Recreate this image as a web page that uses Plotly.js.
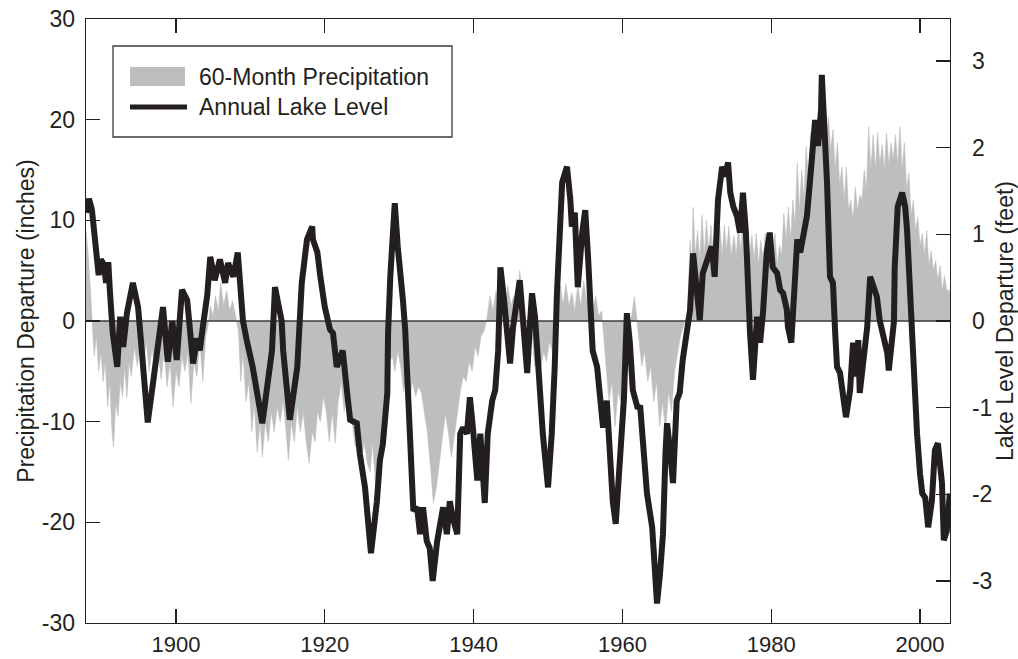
<!DOCTYPE html>
<html>
<head>
<meta charset="utf-8">
<script src="https://cdn.plot.ly/plotly-3.0.1.min.js"></script>
<style>html,body{margin:0;padding:0;background:#fff;}#chart{width:1018px;height:659px;}</style>
</head>
<body>
<div id="chart"></div>
<script>
// ---- Data ----
const seriesNames = ["60-Month Precipitation", "Annual Lake Level"];
const xTickVals = [1900, 1920, 1940, 1960, 1980, 2000];
const yLeftTicks = [-30, -20, -10, 0, 10, 20, 30];
const yLeftTickText = ["-30", "-20", "-10", "0", "10", "20", "30"];
const yRightTicks = [-3, -2, -1, 0, 1, 2, 3];
const yRightTickText = ["-3", "-2", "-1", "0", "1", "2", "3"];

// 60-month precipitation departure (inches), left axis
const precipYears = [
1887.9,1888.2,1888.5,1888.8,1889.0,1889.3,1889.6,1889.9,1890.2,1890.5,1890.8,1891.1,1891.4,1891.6,1891.9,1892.2,1892.5,1892.8,1893.1,1893.4,
1893.7,1894.0,1894.4,1894.8,1895.2,1895.6,1896.0,1896.4,1896.8,1897.2,1897.6,1898.0,1898.4,1898.8,1899.2,1899.6,1900.0,1900.4,1900.8,1901.2,
1901.6,1902.0,1902.4,1902.8,1903.2,1903.6,1904.0,1904.3,1904.6,1905.0,1905.3,1905.7,1906.0,1906.4,1906.8,1907.2,1907.6,1908.0,1908.4,1908.7,
1909.0,1909.4,1909.8,1910.2,1910.5,1910.9,1911.3,1911.6,1912.0,1912.4,1912.8,1913.2,1913.6,1914.0,1914.4,1914.8,1915.1,1915.5,1915.9,1916.3,
1916.7,1917.1,1917.5,1917.9,1918.3,1918.7,1919.0,1919.4,1919.8,1920.2,1920.6,1921.0,1921.4,1921.8,1922.2,1922.6,1922.9,1923.3,1923.7,1924.1,
1924.5,1924.9,1925.3,1925.7,1926.1,1926.4,1926.8,1927.2,1927.5,1927.9,1928.3,1928.7,1929.1,1929.4,1929.8,1930.2,1930.6,1931.0,1931.4,1931.8,
1932.2,1932.6,1933.0,1933.4,1933.8,1934.2,1934.6,1935.0,1935.4,1935.8,1936.2,1936.6,1937.0,1937.4,1937.8,1938.2,1938.6,1939.0,1939.4,1939.8,
1940.2,1940.6,1941.0,1941.4,1941.8,1942.2,1942.6,1943.0,1943.4,1943.8,1944.2,1944.6,1945.0,1945.4,1945.8,1946.2,1946.6,1947.0,1947.4,1947.8,
1948.2,1948.6,1949.0,1949.4,1949.8,1950.2,1950.6,1951.0,1951.3,1951.7,1952.0,1952.4,1952.8,1953.2,1953.6,1954.0,1954.4,1954.8,1955.2,1955.6,
1956.0,1956.4,1956.8,1957.2,1957.5,1957.9,1958.2,1958.6,1959.0,1959.4,1959.8,1960.2,1960.6,1961.0,1961.3,1961.6,1961.9,1962.2,1962.6,1963.0,
1963.4,1963.8,1964.2,1964.6,1965.0,1965.4,1965.8,1966.2,1966.6,1967.0,1967.4,1967.8,1968.2,1968.6,1968.7,1969.1,1969.3,1969.5,1969.8,1970.1,
1970.4,1970.7,1971.0,1971.3,1971.6,1971.9,1972.2,1972.5,1972.8,1973.1,1973.4,1973.7,1974.0,1974.3,1974.6,1975.0,1975.3,1975.6,1975.9,1976.2,
1976.5,1976.8,1977.1,1977.4,1977.7,1978.0,1978.3,1978.6,1978.9,1979.2,1979.5,1979.8,1980.1,1980.5,1980.8,1981.1,1981.4,1981.7,1982.0,1982.3,
1982.6,1982.9,1983.2,1983.5,1983.8,1984.1,1984.4,1984.7,1985.0,1985.3,1985.6,1985.9,1986.2,1986.5,1986.8,1987.1,1987.4,1987.7,1988.0,1988.3,
1988.6,1988.9,1989.2,1989.5,1989.8,1990.1,1990.4,1990.7,1991.0,1991.3,1991.6,1991.9,1992.2,1992.5,1992.8,1993.1,1993.4,1993.7,1994.0,1994.3,
1994.6,1994.9,1995.2,1995.5,1995.8,1996.1,1996.4,1996.7,1997.0,1997.3,1997.6,1997.9,1998.2,1998.5,1998.8,1999.1,1999.4,1999.7,2000.0,2000.3,
2000.6,2000.9,2001.2,2001.5,2001.8,2002.1,2002.4,2002.7,2003.0,2003.3,2003.6,2003.9,2004.03
];
const precipInches = [
9,6.5,3,-1,-3.5,-1.5,-5,-3,-6,-4,-8.5,-6,-11,-12.5,-8,-9.5,-6,-7.5,-4.5,-7.6,
-4,-5.5,-2.5,-4.5,-2,-4.5,-2,-5,-2.5,-6.5,-3,-5.8,-3,-6.5,-4,-8.5,-5,-6.5,-3.5,-5,
-3,-8.2,-4,-5.5,-2,-6,-1.5,-0.5,1.5,0.5,2.5,1,3.8,1.5,3,1,2,0.5,-1,-6,
-3,-8,-6,-11,-8,-13,-10,-13.5,-10,-12,-9,-11,-8.5,-10,-8,-11,-13.8,-10,-12,-8.5,
-11,-9,-12,-14.1,-11,-12,-9,-10,-7.5,-9,-12,-9,-12.1,-8,-6,-9,-7,-8,-10.5,-12.5,
-11,-14,-12,-14.1,-15,-12,-16,-13,-11.8,-8,-6,-4,-3.5,-5,-3,-4.5,-7,-5,-7.9,-6,
-7.5,-6.5,-7.2,-9,-11.1,-14.5,-18.1,-16.5,-14,-12,-9.2,-11,-13.5,-11.5,-9,-7,-5.5,-6,-4,-5,
-2.5,-3.5,-1.5,-1,0.3,2.5,1,3,1.5,2,0.5,3.5,1.5,2.5,1,5,2,0,-1.2,-0.5,
-4.5,-2.5,-5,-3,-4,-2,-3,-0.8,0.3,3.5,1.5,3.7,1.5,2.8,1,3.5,1.5,4,2,3,
1,2.5,0.5,1,-2,-5,-8,-6,-10.5,-7,-8,-5,-3,-1,0.5,2.4,0.5,-2,-4.5,-3,
-6,-4.5,-8,-6,-10.5,-8,-11,-7,-9,-5,-3,-1.5,-0.5,0.5,0,8,5,11.3,6.5,9,
6,10.5,6.5,10,7,9.5,6.5,10.5,7,9.4,6.5,9.5,7,9.4,6.5,8.5,6.5,9.4,7,10.3,
6,9,6.5,8.5,6,8.7,5.5,8,6,8.7,6,7.5,6,8.7,5.5,7.5,6.5,10.7,8,11.3,
8,12,9.5,15.7,11,15,12,17.3,14,18.7,16,20,17,21,18.5,21,18,20.3,17,19,
15,17.7,13.5,15.3,12,15.3,11,12,10,13.3,11,12.5,12,15,13,19.3,15,18.5,15,18.7,
15.5,17.5,15,18.7,15.5,17.7,16,18.5,15.5,19.3,15,17.7,13,14.7,10.5,12,9,10.3,7.5,8.7,
6.5,9,5.5,7,5,6,4,5.5,3,4.5,3,3.1,2.5
];

// Annual lake level departure (feet), right axis
const lakeYears = [
1887.9,1888.3,1888.7,1889.1,1889.4,1889.6,1889.9,1890.3,1890.6,1890.9,1891.1,1891.5,1892.1,1892.5,1892.9,1893.4,1894.2,1894.9,1895.2,1896.1,
1896.2,1896.9,1897.4,1897.8,1898.25,1898.9,1899.5,1900.1,1900.8,1901.5,1901.9,1902.3,1902.8,1903.2,1903.6,1904.2,1904.6,1905.2,1905.9,1906.6,
1907.0,1907.7,1908.3,1909.0,1909.5,1910.3,1911.6,1912.2,1912.9,1913.3,1913.7,1914.2,1914.4,1915.3,1916.3,1916.7,1916.9,1917.6,1918.3,1918.4,
1919.0,1919.4,1920.0,1920.7,1921.1,1921.6,1922.4,1923.0,1923.4,1924.3,1924.7,1925.4,1926.1,1926.2,1926.5,1927.0,1927.4,1927.8,1928.4,1928.5,
1928.8,1929.4,1929.8,1930.1,1930.5,1930.8,1931.0,1931.4,1931.7,1931.9,1932.4,1932.8,1933.2,1933.7,1934.1,1934.5,1935.1,1935.5,1935.9,1936.4,
1936.8,1937.2,1937.8,1938.2,1938.6,1939.1,1939.5,1939.9,1940.5,1940.9,1941.5,1941.9,1942.5,1942.9,1943.3,1943.5,1943.6,1944.0,1944.5,1944.9,
1945.3,1945.8,1946.2,1946.6,1947.2,1947.6,1947.85,1948.25,1948.5,1948.9,1949.3,1950.0,1950.5,1950.9,1951.2,1951.9,1952.55,1953.0,1953.2,1953.6,
1954.0,1954.6,1955.0,1955.4,1955.9,1956.0,1956.6,1957.0,1957.4,1957.9,1958.3,1958.7,1959.1,1959.4,1959.9,1960.2,1960.6,1961.0,1961.4,1962.0,
1962.4,1962.8,1963.3,1964.0,1964.4,1964.65,1965.05,1965.45,1965.8,1966.0,1966.4,1966.8,1967.3,1967.7,1968.1,1968.7,1969.1,1969.5,1970.0,1970.4,
1970.8,1971.4,1972.0,1972.4,1972.85,1973.4,1973.8,1974.2,1974.5,1974.9,1975.4,1975.8,1976.2,1976.6,1976.9,1977.15,1977.55,1978.1,1978.5,1978.9,
1979.4,1979.8,1980.2,1980.8,1981.2,1981.6,1982.1,1982.25,1982.7,1982.9,1983.2,1983.5,1983.9,1984.3,1984.8,1985.2,1985.6,1985.9,1986.3,1986.7,
1986.8,1987.1,1987.5,1987.9,1988.3,1988.6,1988.85,1989.25,1989.65,1990.05,1990.6,1991.0,1991.5,1991.7,1991.9,1992.3,1992.9,1993.3,1993.7,1994.2,
1994.6,1995.0,1995.6,1995.8,1996.2,1996.5,1996.6,1997.0,1997.6,1998.0,1998.25,1998.65,1998.9,1999.3,1999.6,2000.0,2000.3,2000.7,2001.1,2001.6,
2002.0,2002.4,2002.95,2003.2,2003.6,2004.0
];
const lakeFeet = [
1.25,1.41,1.28,0.94,0.76,0.53,0.71,0.65,0.44,0.68,0.36,-0.14,-0.53,0.05,-0.3,0.09,0.44,0.16,-0.14,-1.14,
-1.17,-0.72,-0.34,-0.07,0.16,-0.47,0.0,-0.45,0.36,0.24,-0.1,-0.49,-0.2,-0.34,-0.07,0.3,0.74,0.47,0.71,0.44,
0.67,0.51,0.79,0.0,-0.22,-0.53,-1.18,-0.83,-0.34,0.39,0.24,0.0,-0.34,-1.14,-0.53,0.0,0.44,0.94,1.09,0.94,
0.79,0.51,0.16,-0.1,-0.14,-0.53,-0.34,-0.83,-1.14,-1.18,-1.53,-1.92,-2.65,-2.68,-2.46,-2.08,-1.61,-1.42,-0.83,-0.14,
0.51,1.36,0.86,0.62,0.24,-0.1,-0.53,-1.3,-1.76,-2.19,-2.15,-2.46,-2.15,-2.54,-2.62,-3.0,-2.54,-2.38,-2.15,-2.46,
-2.08,-2.27,-2.46,-1.3,-1.23,-1.3,-0.88,-1.23,-1.84,-1.3,-2.1,-1.3,-0.92,-0.8,-0.34,0.24,0.62,0.32,-0.1,-0.49,
-0.07,0.24,0.47,0.05,-0.6,0.0,0.32,0.05,-0.34,-0.92,-1.3,-1.92,-1.3,-0.53,0.32,1.6,1.78,1.4,1.09,1.25,
0.39,1.02,1.28,0.71,-0.1,-0.34,-0.53,-0.83,-1.23,-0.92,-1.49,-2.08,-2.34,-1.98,-1.3,-0.9,0.09,-0.25,-0.8,-0.99,
-1.0,-1.49,-1.99,-2.38,-3.03,-3.26,-2.92,-2.46,-1.5,-1.18,-1.49,-1.87,-0.92,-0.83,-0.45,-0.14,0.13,0.78,0.32,0.01,
0.55,0.71,0.86,0.51,1.4,1.78,1.67,1.83,1.48,1.32,1.21,1.02,1.48,1.02,0.24,-0.14,-0.68,0.05,-0.25,0.1,
0.79,1.02,0.62,0.55,0.36,0.32,0.13,-0.07,-0.25,0.05,0.55,0.94,0.79,1.02,1.21,1.6,1.94,2.32,2.02,2.44,
2.84,2.36,1.6,0.51,0.44,-0.14,-0.53,-0.6,-0.92,-1.11,-0.8,-0.25,-0.64,-0.22,-0.83,-0.45,-0.07,0.51,0.39,0.28,
0.0,-0.14,-0.37,-0.57,-0.14,0.0,0.62,1.32,1.48,1.32,1.06,0.32,-0.14,-0.72,-1.3,-1.76,-1.99,-2.04,-2.38,-2.07,
-1.49,-1.41,-1.87,-2.53,-2.42,-1.99
];

// ---- Styling ----
const INK = '#231f20';
const GRAY = '#bcbec0';
const FONT = 'Liberation Sans, Arial, Helvetica, sans-serif';
const FS = 23;
const xRange = [1887.9, 2004.03];

const traces = [
  {
    x: precipYears, y: precipInches, name: seriesNames[0], type: 'scatter', mode: 'lines',
    fill: 'tozeroy', fillcolor: GRAY, line: {color: GRAY, width: 0.6}, yaxis: 'y', hoverinfo: 'skip'
  },
  {
    x: xRange, y: [0, 0], type: 'scatter', mode: 'lines', showlegend: false,
    line: {color: '#3c3a3b', width: 1.3}, yaxis: 'y', hoverinfo: 'skip'
  },
  {
    x: lakeYears, y: lakeFeet, name: seriesNames[1], type: 'scatter', mode: 'lines',
    line: {color: INK, width: 6}, yaxis: 'y2'
  }
];

// legend geometry helpers (paper coords from plot-area pixels)
const L = 86, T = 19, W = 864, H = 604;
const px = v => (v - L) / W;
const py = v => (T + H - v) / H;

const layout = {
  width: 1018, height: 659,
  margin: {l: L, r: 1018 - L - W, t: T, b: 659 - T - H, pad: 0},
  paper_bgcolor: '#fff', plot_bgcolor: '#fff',
  font: {family: FONT, size: FS, color: INK},
  showlegend: false,
  xaxis: {
    range: xRange, tickvals: xTickVals, ticks: 'inside', ticklen: 14, tickwidth: 1.3, tickcolor: INK,
    showline: true, linecolor: INK, linewidth: 1.3, mirror: 'ticks', showgrid: false, zeroline: false,
    tickfont: {size: 22, color: INK}, ticklabelstandoff: 1
  },
  yaxis: {
    range: [-30, 30], tickvals: yLeftTicks, ticktext: yLeftTickText, ticks: 'inside', ticklen: 14, tickwidth: 1.3, tickcolor: INK,
    showline: true, linecolor: INK, linewidth: 1.3, showgrid: false, zeroline: false,
    tickfont: {size: FS, color: INK}, ticklabelstandoff: 5,
    title: {text: 'Precipitation Departure (inches)', font: {size: FS, color: INK}, standoff: 0}
  },
  yaxis2: {
    range: [-3.485, 3.485], tickvals: yRightTicks, ticktext: yRightTickText, overlaying: 'y', side: 'right',
    ticks: 'inside', ticklen: 14, tickwidth: 1.3, tickcolor: INK,
    showline: true, linecolor: INK, linewidth: 1.3, showgrid: false, zeroline: false,
    tickfont: {size: FS, color: INK}, ticklabelstandoff: 16,
    title: {text: 'Lake Level Departure (feet)', font: {size: FS, color: INK}, standoff: 17}
  },
  shapes: [
    {type: 'rect', xref: 'paper', yref: 'paper', x0: px(113), x1: px(452), y0: py(137), y1: py(46),
     line: {color: '#3c3a3b', width: 1.3}, fillcolor: '#fff'},
    {type: 'rect', xref: 'paper', yref: 'paper', x0: px(130), x1: px(185), y0: py(86), y1: py(67),
     line: {width: 0}, fillcolor: GRAY},
    {type: 'line', xref: 'paper', yref: 'paper', x0: px(130), x1: px(187), y0: py(107), y1: py(107),
     line: {color: INK, width: 5}}
  ],
  annotations: [
    {xref: 'paper', yref: 'paper', x: px(197), y: py(77), xanchor: 'left', yanchor: 'middle',
     text: seriesNames[0], showarrow: false, font: {size: FS, color: INK}},
    {xref: 'paper', yref: 'paper', x: px(197), y: py(107), xanchor: 'left', yanchor: 'middle',
     text: seriesNames[1], showarrow: false, font: {size: FS, color: INK}}
  ]
};

Plotly.newPlot('chart', traces, layout, {displayModeBar: false, staticPlot: true});
</script>
</body>
</html>
